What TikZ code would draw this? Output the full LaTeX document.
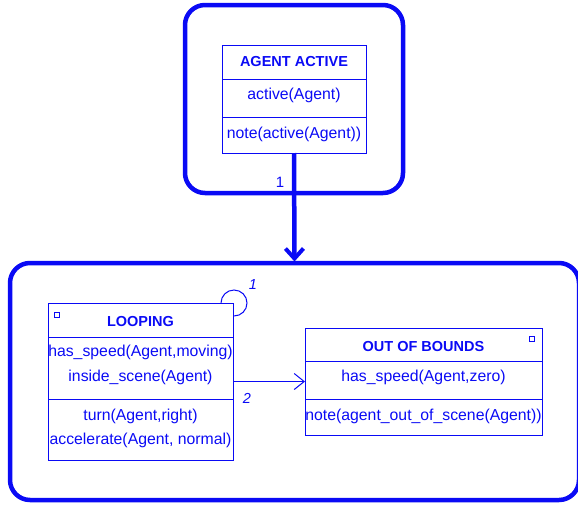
\documentclass[tikz,border=0pt]{standalone}
\usepackage{fontspec}
\setmainfont{Liberation Sans}
\usetikzlibrary{arrows.meta}
\definecolor{umlblue}{RGB}{10,10,245}
\tikzset{
  container/.style={draw=umlblue, line width=4.5pt, rounded corners=20pt, outer sep=0pt, inner sep=0pt},
  statebox/.style={draw=umlblue, line width=1pt, outer sep=0pt, inner sep=0pt},
  divider/.style={draw=umlblue, line width=1pt},
  txt/.style={text=umlblue, inner sep=0pt, font=\fontsize{15.8}{18}\selectfont},
  ttl/.style={text=umlblue, inner sep=0pt, font=\fontsize{14.5}{17}\selectfont\bfseries},
  lbl/.style={text=umlblue, inner sep=0pt, font=\fontsize{15}{17}\selectfont},
  ilbl/.style={text=umlblue, inner sep=0pt, font=\fontsize{14.5}{16}\selectfont\itshape},
  marker/.style={draw=umlblue, line width=1.2pt, minimum size=5pt, inner sep=0pt, outer sep=0pt},
  thickarrow/.style={draw=umlblue, line width=4.5pt, -{Straight Barb[length=10pt,width=18pt,line width=4pt]}},
  thinarrow/.style={draw=umlblue, line width=1pt, -{Straight Barb[length=10pt,width=16pt,line width=1pt]}},
}
\begin{document}
\begin{tikzpicture}[x=1pt,y=-1pt]
\useasboundingbox (0,0) rectangle (578,507);
% containers
\node[container, minimum width=218pt, minimum height=188pt] (tc) at (294,99) {};
\node[container, minimum width=569pt, minimum height=237pt] (bot) at (294.5,381.5) {};
% AGENT ACTIVE
\node[statebox, minimum width=144pt, minimum height=108pt] (aa) at (294,99) {};
\draw[divider] (aa.west |- 0,79) -- (aa.east |- 0,79);
\draw[divider] (aa.west |- 0,117) -- (aa.east |- 0,117);
\node[ttl] (aat) at (294,62) {AGENT ACTIVE};
\node[txt] (aa1) at (294,95) {active(Agent)};
\node[txt] (aa2) at (294,134) {note(active(Agent))};
% LOOPING
\node[statebox, minimum width=185pt, minimum height=157pt] (lp) at (140.5,381.5) {};
\draw[divider] (lp.west |- 0,337) -- (lp.east |- 0,337);
\draw[divider] (lp.west |- 0,399) -- (lp.east |- 0,399);
\node[marker] (lpm) at (57,315) {};
\node[ttl] (lpt) at (140.5,321) {LOOPING};
\node[txt] (lp1) at (140.5,352) {has\_speed(Agent,moving)};
\node[txt] (lp2) at (140.5,377) {inside\_scene(Agent)};
\node[txt] (lp3) at (140.5,416) {turn(Agent,right)};
\node[txt] (lp4) at (140.5,440) {accelerate(Agent, normal)};
% OUT OF BOUNDS
\node[statebox, minimum width=237pt, minimum height=107pt] (ob) at (423.5,381.5) {};
\draw[divider] (ob.west |- 0,361) -- (ob.east |- 0,361);
\draw[divider] (ob.west |- 0,399) -- (ob.east |- 0,399);
\node[marker] (obm) at (532,339) {};
\node[ttl] (obt) at (423.5,346) {OUT OF BOUNDS};
\node[txt] (ob1) at (423.5,377) {has\_speed(Agent,zero)};
\node[txt] (ob2) at (423.5,416) {note(agent\_out\_of\_scene(Agent))};
% transitions
\draw[thickarrow] (aa.south) -- ([yshift=1.5pt]bot.north);
\node[lbl] (l1) at (280,182) {1};
\draw[draw=umlblue, line width=1pt] ([xshift=-12pt]lp.north east) arc[start angle=180, end angle=-90, x radius=13pt, y radius=13pt];
\node[ilbl] (l1b) at (253,285) {1};
\draw[thinarrow] (lp.east |- ob.west) -- (ob.west);
\node[ilbl] (l2) at (247,398) {2};
\end{tikzpicture}
\end{document}
